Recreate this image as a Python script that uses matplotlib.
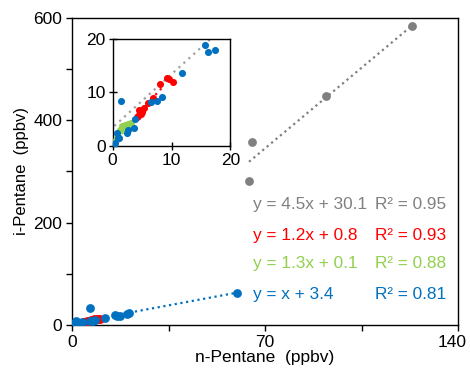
import matplotlib
matplotlib.use("Agg")
import matplotlib.pyplot as plt
import matplotlib.transforms as mtransforms
import numpy as np

plt.rcParams['font.family'] = ['Liberation Sans', 'DejaVu Sans']

# scatter data (n-Pentane, i-Pentane), ppbv
gray_x = [64.2, 65.4, 92.3, 123.2]
gray_y = [281, 357, 448, 584]

red_x = [4.2, 4.4, 4.5, 4.7, 4.8, 4.95, 5.3, 6.0, 6.8, 8.0, 9.2, 9.5, 10.2]
red_y = [5.4, 5.5, 6.7, 6.1, 6.0, 6.4, 7.0, 8.0, 9.0, 11.6, 12.6, 12.5, 11.9]

green_x = [0.15, 0.3, 0.6, 0.7, 1.0, 1.3, 1.55, 1.95, 2.1, 2.4, 2.7, 2.9, 3.1]
green_y = [0.1, 0.4, 1.1, 2.0, 1.7, 2.9, 3.7, 3.3, 3.9, 3.6, 4.0, 3.7, 4.2]

blue_x = [0.15, 0.4, 1.0, 0.7, 1.15, 2.4, 2.7, 3.7, 3.8, 1.4, 6.6, 7.5, 8.4,
          11.8, 15.6, 16.2, 17.3, 19.8, 20.7, 6.5, 59.9]
blue_y = [0.2, 0.6, 1.4, 2.3, 1.4, 2.4, 2.9, 3.4, 5.1, 8.4, 8.1, 8.3, 9.2,
          13.6, 18.9, 17.6, 18.0, 20.9, 22.8, 32.6, 61.9]

# linear fits shown on the chart
fits = [
    ("y = 4.5x + 30.1", "R² = 0.95", 4.5, 30.1, (64.2, 123.2), '#808080'),
    ("y = 1.2x + 0.8", "R² = 0.93", 1.2, 0.8, (4.2, 10.2), '#ff0000'),
    ("y = 1.3x + 0.1", "R² = 0.88", 1.3, 0.1, (0.15, 3.1), '#92d050'),
    ("y = x + 3.4", "R² = 0.81", 1.0, 3.4, (0.15, 59.9), '#0070c0'),
]

series = [
    (gray_x, gray_y, '#808080'),
    (red_x, red_y, '#ff0000'),
    (green_x, green_y, '#92d050'),
    (blue_x, blue_y, '#0070c0'),
]

fig = plt.figure(figsize=(4.7, 3.74), dpi=100)
ax = fig.add_axes([0.1532, 0.131, 0.8213, 0.821])

for xs, ys, c in series:
    ax.scatter(xs, ys, s=40, color=c, linewidths=0, zorder=3)
for eq, r2, m, b, (x0, x1), c in fits:
    xx = np.array([x0, x1])
    ax.plot(xx, m * xx + b, linestyle=(0, (1, 1.6)), color=c, lw=1.6, zorder=2)

ax.set_xlim(0, 140)
ax.set_ylim(0, 600)
ax.set_xticks([0, 35, 70, 105, 140])
ax.set_xticklabels(['0', '', '70', '', '140'])
ax.set_yticks([0, 100, 200, 300, 400, 500, 600])
ax.set_yticklabels(['0', '', '200', '', '400', '', '600'])
ax.tick_params(direction='out', length=4, width=1, labelsize=12.5, pad=3)
# pull the "140" label in so it stays inside the figure
last = ax.get_xticklabels()[-1]
last.set_transform(last.get_transform() +
                   mtransforms.ScaledTranslation(-6 / 100, 0, fig.dpi_scale_trans))
for sp in ax.spines.values():
    sp.set_linewidth(1)
ax.set_xlabel('n-Pentane  (ppbv)', fontsize=12.5, labelpad=0)
ax.set_ylabel('i-Pentane  (ppbv)', fontsize=12, labelpad=3)

rows = [0.391, 0.293, 0.199, 0.098]
for (eq, r2, m, b, rng, c), yy in zip(fits, rows):
    ax.text(0.469, yy, eq, color=c, fontsize=12.4, va='center', transform=ax.transAxes)
    ax.text(0.785, yy, r2, color=c, fontsize=12.4, va='center', transform=ax.transAxes)

# inset zoom on low concentrations
axi = fig.add_axes([0.2394, 0.6104, 0.251, 0.2853])
for xs, ys, c in series[1:]:
    axi.scatter(xs, ys, s=26, color=c, linewidths=0, zorder=3)
xx = np.array([0.3, 16.5])
axi.plot(xx, xx + 3.4, linestyle=(0, (1, 2)), color='#a0a0a0', lw=1.6, zorder=2)
xx = np.array([4.2, 8.5])
axi.plot(xx, 1.2 * xx + 0.8, linestyle=(0, (1, 2)), color='#ff0000', lw=1.6, zorder=2)
xx = np.array([0.15, 3.1])
axi.plot(xx, 1.3 * xx + 0.1, linestyle=(0, (1, 2)), color='#92d050', lw=1.6, zorder=2)
axi.set_xlim(0, 20)
axi.set_ylim(0, 20)
axi.set_xticks([0, 10, 20])
axi.set_yticks([0, 10, 20])
axi.tick_params(direction='inout', length=6, width=1, labelsize=12.5, pad=2)
for sp in axi.spines.values():
    sp.set_linewidth(1)

fig.savefig('out.png', dpi=100)
